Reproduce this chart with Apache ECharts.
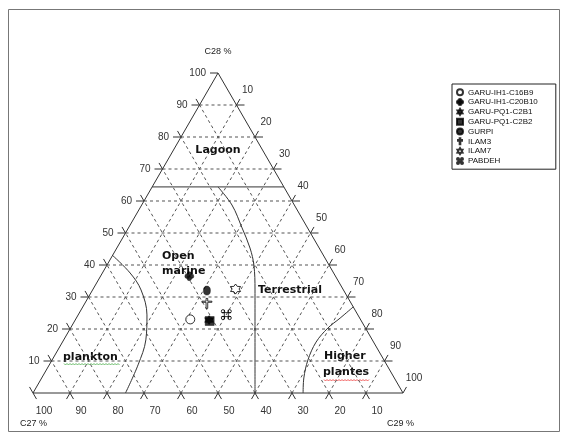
<!DOCTYPE html>
<html><head><meta charset="utf-8">
<script src="https://cdn.jsdelivr.net/npm/echarts@6/dist/echarts.min.js"></script>
<style>html,body{margin:0;padding:0;background:#fff}#c{width:568px;height:439px}</style>
</head><body><div id="c"></div>
<script>
// ---- data (ternary percentages) ----
const samples = ['GARU-IH1-C16B9','GARU-IH1-C20B10','GARU-PQ1-C2B1','GARU-PQ1-C2B2','GURPI','ILAM3','ILAM7','PABDEH'];
const c27 = [46, 39.5, 41, 41, 37, 39, 29, 35.5];
const c28 = [23, 36.5, 22.8, 22.5, 32, 28, 32.5, 24.5];
const c29 = [31, 24, 36.2, 36.5, 31, 33, 38.5, 40];
const tickValues = [10, 20, 30, 40, 50, 60, 70, 80, 90, 100];
const tickLabels = ['10', '20', '30', '40', '50', '60', '70', '80', '90', '100'];
// boundaries [C27, C28, C29]
const planktonBoundary = [[57,43,0],[55,37.5,7.5],[54.7,32.2,13.1],[57,24.4,18.6],[61.2,16.6,22.2],[67.2,8.8,24],[75,0,25]];
const terrestrialBoundary = [[17.8,64.4,17.8],[16.85,58.75,24.4],[17.7,51.6,30.7],[18.7,45.3,36],[20.3,40,39.7],[23.9,32.2,43.9],[40,0,60]];
const higherPlantBoundary = [[0,26.9,73.1],[5.3,23.4,71.3],[10.15,20.3,69.55],[15.55,15.9,68.55],[20.55,10.3,69.15],[24.45,4.7,70.85],[27,0,73]];
const lagoonBoundary = [[35.6,64.4,0],[0,64.4,35.6]];

function toXY(p27, p28, p29) {
  const s = p27 + p28 + p29;
  const a = p28 / s * 100, b = p29 / s * 100;
  return [b + a / 2, a];
}

// grid segments: [x1,y1,x2,y2,kind] kind 0 dashed, 1 tick, 2 edge
const EXH = 8 / 3.7, DX = 3.5 / 3.7, DY = 6.06 / 3.2;
const segs = [];
tickValues.forEach(v => {
  if (v < 100) {
    const lx = v / 2, rx = 100 - v / 2;
    segs.push([lx, v, rx, v, 0]);
    segs.push([lx - EXH, v, lx, v, 1], [rx, v, rx + EXH, v, 1]);
    const ex = v + (100 - v) / 2, ey = 100 - v;
    segs.push([v, 0, ex, ey, 0]);
    segs.push([v - DX, -DY, v, 0, 1], [ex, ey, ex + DX, ey + DY, 1]);
    const bx = 100 - v, lx2 = (100 - v) / 2, ly2 = 100 - v;
    segs.push([bx, 0, lx2, ly2, 0]);
    segs.push([bx, 0, bx + DX, -DY, 1], [lx2 - DX, ly2 + DY, lx2, ly2, 1]);
  }
});
segs.push([50 - EXH, 100, 50, 100, 1]);
segs.push([0, 0, DX, -DY, 1], [-DX, DY, 0, 0, 1]);
segs.push([100, 0, 100 + DX, DY, 1]);
segs.push([0, 0, 100, 0, 2], [0, 0, 50, 100, 2], [100, 0, 50, 100, 2]);
{
  const p1 = toXY(...lagoonBoundary[0]), p2 = toXY(...lagoonBoundary[1]);
  segs.push([p1[0], p1[1], p2[0], p2[1], 2]);
}

// tick label items: [x, y, dx, dy, align, text]
const labelItems = [];
tickValues.forEach((v, i) => {
  labelItems.push([v / 2, v, -12, 0, 'right', tickLabels[i]]);
  labelItems.push([v + (100 - v) / 2, 100 - v, 11, -15, 'center', tickLabels[i]]);
  labelItems.push([100 - v, 0, 11, 18, 'center', tickLabels[i]]);
});

function star(n, ro, ri) {
  let d = '';
  for (let i = 0; i < 2 * n; i++) {
    const r = i % 2 ? ri : ro, ang = Math.PI * i / n - Math.PI / 2;
    d += (i ? 'L' : 'M') + (10 + r * Math.cos(ang)).toFixed(2) + ',' + (10 + r * Math.sin(ang)).toFixed(2);
  }
  return 'path://' + d + 'Z';
}
const quatrefoil = 'path://M5.5,5.5A4.5,4.5 0 1,1 14.5,5.5A4.5,4.5 0 1,1 5.5,5.5Z' +
  'M10,10A4.5,4.5 0 1,1 19,10A4.5,4.5 0 1,1 10,10Z' +
  'M5.5,14.5A4.5,4.5 0 1,1 14.5,14.5A4.5,4.5 0 1,1 5.5,14.5Z' +
  'M1,10A4.5,4.5 0 1,1 10,10A4.5,4.5 0 1,1 1,10Z';
const crossPath = 'path://M9,1H11V6H16V8H11V19H9V8H4V6H9Z';
const cmdPath = 'path://M7,3V17M13,3V17M3,7H17M3,13H17' +
  'M2.5,5A2.5,2.5 0 1,1 7.5,5A2.5,2.5 0 1,1 2.5,5Z' +
  'M12.5,5A2.5,2.5 0 1,1 17.5,5A2.5,2.5 0 1,1 12.5,5Z' +
  'M2.5,15A2.5,2.5 0 1,1 7.5,15A2.5,2.5 0 1,1 2.5,15Z' +
  'M12.5,15A2.5,2.5 0 1,1 17.5,15A2.5,2.5 0 1,1 12.5,15Z';

const markerStyles = [
  {symbol: 'circle', size: 9, hollow: true},
  {symbol: quatrefoil, size: 9, hollow: false},
  {symbol: star(6, 10, 6), size: 9, hollow: false},
  {symbol: 'rect', size: 9, hollow: false},
  {symbol: 'circle', size: [7, 9], hollow: false},
  {symbol: crossPath, size: 10, hollow: true},
  {symbol: star(6, 10, 6), size: 10, hollow: true},
  {symbol: cmdPath, size: 10, hollow: true}
];

const series = [];
series.push({
  type: 'custom', name: 'grid', silent: true, z: 1,
  data: segs,
  renderItem: function (params, api) {
    const k = api.value(4);
    const p1 = api.coord([api.value(0), api.value(1)]);
    const p2 = api.coord([api.value(2), api.value(3)]);
    return {
      type: 'line',
      shape: {x1: p1[0], y1: p1[1], x2: p2[0], y2: p2[1]},
      style: k === 0 ? {stroke: '#555', lineWidth: 1, lineDash: [3, 3]} :
             {stroke: '#333', lineWidth: 1}
    };
  }
});
series.push({
  type: 'custom', name: 'ticklabels', silent: true, z: 2,
  data: labelItems.map((d, i) => [d[0], d[1], i]),
  renderItem: function (params, api) {
    const it = labelItems[params.dataIndex];
    const p = api.coord([it[0], it[1]]);
    return {
      type: 'text',
      x: p[0] + it[2], y: p[1] + it[3],
      style: {text: it[5], fill: '#333', font: '10px "Liberation Sans", Arial, sans-serif',
              textAlign: it[4], textVerticalAlign: 'middle'}
    };
  }
});
[planktonBoundary, terrestrialBoundary, higherPlantBoundary].forEach((b, i) => {
  series.push({
    type: 'line', name: 'boundary' + i, silent: true, z: 3,
    data: b.map(p => toXY(...p)), smooth: 0.35, symbol: 'none',
    lineStyle: {color: '#333', width: 1}
  });
});
samples.forEach((name, i) => {
  const m = markerStyles[i];
  series.push({
    type: 'scatter', name: name, z: 5 + (i === 2 ? 0 : 1),
    symbol: m.symbol, symbolSize: m.size,
    data: [toXY(c27[i], c28[i], c29[i])],
    itemStyle: m.hollow ? {color: '#fff', borderColor: '#000', borderWidth: 1} :
                          {color: '#000', borderColor: '#000', borderWidth: 0.5}
  });
});

function squiggle(x0, x1, y) {
  const pts = [];
  for (let x = x0, k = 0; x <= x1; x += 1.5, k++) pts.push([x, y + (k % 2 ? 1 : -0.5)]);
  return pts;
}

const chart = echarts.init(document.getElementById('c'), null, {renderer: 'canvas'});
chart.setOption({
  animation: false,
  backgroundColor: '#fff',
  grid: {left: 33, top: 73, width: 370, height: 320},
  xAxis: {type: 'value', min: 0, max: 100, show: false},
  yAxis: {type: 'value', min: 0, max: 100, show: false},
  legend: {
    data: samples, orient: 'vertical', left: 452, top: 84,
    itemWidth: 6, itemHeight: 6, itemGap: 1.2,
    textStyle: {fontSize: 8, lineHeight: 8.6, fontFamily: '"Liberation Sans", Arial, sans-serif', color: '#111', padding: [0, 0, 0, 0]},
    borderColor: '#222', borderWidth: 1, padding: [4, 18, 4, 4], backgroundColor: '#fff',
    selectedMode: false
  },
  graphic: [
    {type: 'rect', shape: {x: 8.5, y: 9.5, width: 551, height: 422}, style: {fill: 'none', stroke: '#777', lineWidth: 1}, silent: true},
    {type: 'text', x: 218, y: 52, style: {text: 'C28 %', font: '9px "Liberation Sans", Arial', fill: '#222', textAlign: 'center', textVerticalAlign: 'middle'}},
    {type: 'text', x: 20, y: 424, style: {text: 'C27 %', font: '9px "Liberation Sans", Arial', fill: '#222', textAlign: 'left', textVerticalAlign: 'middle'}},
    {type: 'text', x: 387, y: 424, style: {text: 'C29 %', font: '9px "Liberation Sans", Arial', fill: '#222', textAlign: 'left', textVerticalAlign: 'middle'}},
    {type: 'text', x: 218, y: 150, style: {text: 'Lagoon', font: 'bold 11px "DejaVu Sans", sans-serif', fill: '#111', textAlign: 'center', textVerticalAlign: 'middle'}},
    {type: 'text', x: 162, y: 256, style: {text: 'Open', font: 'bold 11px "DejaVu Sans", sans-serif', fill: '#111', textAlign: 'left', textVerticalAlign: 'middle'}},
    {type: 'text', x: 162, y: 271, style: {text: 'marine', font: 'bold 11px "DejaVu Sans", sans-serif', fill: '#111', textAlign: 'left', textVerticalAlign: 'middle'}},
    {type: 'text', x: 258, y: 290, style: {text: 'Terrestrial', font: 'bold 11px "DejaVu Sans", sans-serif', fill: '#111', textAlign: 'left', textVerticalAlign: 'middle'}},
    {type: 'text', x: 63, y: 357, style: {text: 'plankton', font: 'bold 11px "DejaVu Sans", sans-serif', fill: '#111', textAlign: 'left', textVerticalAlign: 'middle'}},
    {type: 'text', x: 324, y: 356, style: {text: 'Higher', font: 'bold 11px "DejaVu Sans", sans-serif', fill: '#111', textAlign: 'left', textVerticalAlign: 'middle'}},
    {type: 'text', x: 323, y: 372, style: {text: 'plantes', font: 'bold 11px "DejaVu Sans", sans-serif', fill: '#111', textAlign: 'left', textVerticalAlign: 'middle'}},
    {type: 'polyline', shape: {points: squiggle(64, 120, 364)}, style: {stroke: '#4a4', lineWidth: 0.8, fill: 'none'}, silent: true},
    {type: 'polyline', shape: {points: squiggle(324, 370, 380)}, style: {stroke: '#e33', lineWidth: 0.8, fill: 'none'}, silent: true}
  ],
  series: series
});
</script>
</body></html>
